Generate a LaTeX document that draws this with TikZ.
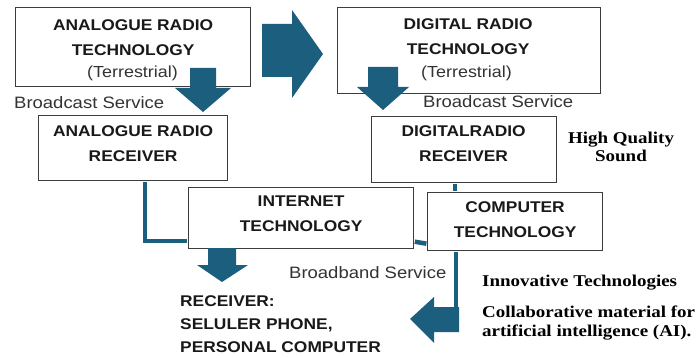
\documentclass[tikz,border=0pt]{standalone}
\usepackage{fontspec}
\newfontfamily\diagsans[FakeStretch=1.12]{Liberation Sans}
\newfontfamily\diagserif[FakeStretch=1.15]{Liberation Serif}
\usetikzlibrary{calc}
\definecolor{arrowteal}{RGB}{27,94,126}
\definecolor{boxline}{RGB}{60,60,60}
\begin{document}
\begin{tikzpicture}[x=1pt,y=-1pt,
  box/.style={draw=boxline, line width=1.2pt, fill=white, inner sep=0pt, anchor=north west},
  title/.style={font=\diagsans\bfseries\fontsize{15.5}{25}\selectfont, align=center, anchor=north, inner sep=0pt, text=black!90},
  sub/.style={font=\diagsans\fontsize{16}{19}\selectfont, anchor=base, inner sep=0pt, text=black!80},
  service/.style={font=\diagsans\fontsize{16.5}{19}\selectfont, anchor=base west, inner sep=0pt, text=black!80},
  device/.style={font=\diagsans\bfseries\fontsize{15.5}{23.3}\selectfont, align=left, anchor=north west, inner sep=0pt, text=black!90},
  note/.style={font=\diagserif\bfseries\fontsize{16.5}{18.5}\selectfont, inner sep=0pt, text=black},
  link/.style={draw=arrowteal, line width=4.5pt},
  blockarrow/.style={fill=arrowteal}]
\useasboundingbox[fill=white] (0,0) rectangle (698,358);

% boxes
\node[box, minimum width=235pt, minimum height=79pt] (b1) at (15,7) {};
\node[box, minimum width=189pt, minimum height=65pt] (b2) at (38,115) {};
\node[box, minimum width=263pt, minimum height=86pt] (b3) at (337,7) {};
\node[box, minimum width=185pt, minimum height=66pt] (b4) at (371,116) {};
\node[box, minimum width=225pt, minimum height=61pt] (b5) at (188,187) {};
\node[box, minimum width=175pt, minimum height=58pt] (b6) at (427,192) {};

% connectors between the boxes
\coordinate (aiend) at ($(b6.south west)+(29,75)$);
\draw[link] ($(b2.south west)+(107,0.6)$) |- ($(b5.south west)+(-0.6,-8)$);
\draw[link] ($(b5.south east)+(0.6,-7.5)$) -- ($(b6.south west)+(-0.6,-7.5)$);
\draw[link] ($(b4.south west)+(84,0.6)$) -- ($(b6.north west)+(28,-0.6)$);
\draw[link] ($(b6.south west)+(29,0.6)$) -- (aiend);

% block arrows
\fill[blockarrow] (262,24) -- (292,24) -- (292,10) -- (323,54) -- (292,98) -- (292,77) -- (262,77) -- cycle;
\fill[blockarrow] (190,68) -- (216,68) -- (216,88) -- (231,88) -- (203,112) -- (175,88) -- (190,88) -- cycle;
\fill[blockarrow] (368,67) -- (398,67) -- (398,87) -- (409,87) -- (383,110) -- (357,87) -- (368,87) -- cycle;
\fill[blockarrow] (208,248) -- (236,248) -- (236,265) -- (248,265) -- (222,282) -- (197,265) -- (208,265) -- cycle;
\fill[blockarrow] (459,307) -- (459,332) -- (434,332) -- (434,343) -- (410,319) -- (434,297) -- (434,307) -- cycle;

% box titles
\node[title] (t1) at ($(b1.north)+(0,12.5)$) {ANALOGUE RADIO\\TECHNOLOGY};
\node[sub] (s1) at (132.5,78) {(Terrestrial)};
\node[title] (t2) at ($(b2.north)+(0,10.5)$) {ANALOGUE RADIO\\RECEIVER};
\node[title] (t3) at ($(b3.north)+(-1,11.6)$) {DIGITAL RADIO\\TECHNOLOGY};
\node[sub] (s3) at (466.5,78) {(Terrestrial)};
\node[title] (t4) at ($(b4.north)+(-0.5,9.6)$) {DIGITALRADIO\\RECEIVER};
\node[title] (t5) at ($(b5.north)+(0,8.6)$) {INTERNET\\TECHNOLOGY};
\node[title] (t6) at ($(b6.north)+(0,9.6)$) {COMPUTER\\TECHNOLOGY};

% service labels
\node[service] (bs1) at (14,108.5) {Broadcast Service};
\node[service] (bs2) at (423,107.5) {Broadcast Service};
\node[service] (bb) at (289,278.7) {Broadband Service};

% end devices
\node[device] (rx) at (180,295.3) {RECEIVER:\\SELULER PHONE,\\PERSONAL COMPUTER};

% notes
\node[note, align=center, anchor=north] (hq) at (621,131.7) {High Quality\\Sound};
\node[note, anchor=base west] (inn) at (482,286) {Innovative Technologies};
\node[note, align=left, anchor=north west] (ai) at (482,305.7) {Collaborative material for\\artificial intelligence (AI).};
\end{tikzpicture}
\end{document}
